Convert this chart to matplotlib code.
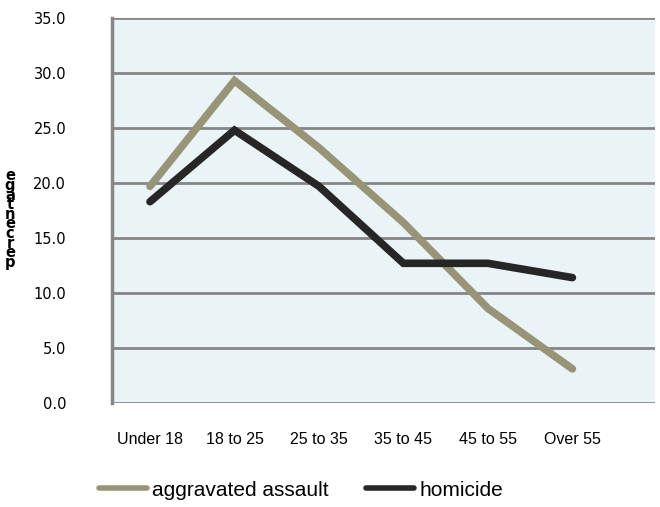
import matplotlib.pyplot as plt
import numpy as np

ages = ['Under 18', '18 to 25', '25 to 35', '35 to 45', '45 to 55', 'Over 55']
assault = [19.7, 29.3, 23.2, 16.4, 8.6, 3.1]
homicide = [18.3, 24.8, 19.7, 12.7, 12.7, 11.4]
ylabel = 'percentage'

grid_c = '#868686'

fig = plt.figure(figsize=(6.6, 5.07), dpi=100)
ax = fig.add_axes([0.1697, 0.2051, 0.823, 0.7594])
ax.set_facecolor('#eaf3f5')

x = np.arange(len(ages))
ax.plot(x, assault, color='#989478', lw=5.5, solid_capstyle='round',
        solid_joinstyle='miter', label='aggravated assault', zorder=3)
ax.plot(x, homicide, color='#262626', lw=5.5, solid_capstyle='round',
        solid_joinstyle='miter', label='homicide', zorder=4)

ax.set_ylim(0, 35)
ax.set_xlim(-0.45, 5.98)
ax.set_yticks(np.arange(0, 36, 5))
ax.set_yticklabels(['%.1f' % v for v in np.arange(0, 36, 5)], fontsize=10.5)
ax.set_xticks(x)
ax.set_xticklabels(ages, fontsize=11.5, family='Liberation Sans')
ax.tick_params(axis='both', length=0)
ax.tick_params(axis='y', pad=33)
ax.tick_params(axis='x', pad=21)

ax.yaxis.grid(True, color=grid_c, lw=2.0)
ax.set_axisbelow(True)
for s in ['top', 'right', 'bottom']:
    ax.spines[s].set_visible(False)
ax.spines['left'].set_color(grid_c)
ax.spines['left'].set_linewidth(2.5)

# the garbled vertical axis title, letters stacked upright
fig.text(10 / 660, 1 - 219 / 507, '\n'.join(ylabel[::-1]), fontsize=10.5,
         fontweight='bold', ha='center', va='center', linespacing=0.55)

handles, labels = ax.get_legend_handles_labels()
leg = fig.legend(handles, labels, loc='center', bbox_to_anchor=(301 / 660, 1 - 490 / 507),
                 ncol=2, frameon=False, prop={'family': 'Liberation Sans', 'size': 15},
                 handlelength=2.3, handletextpad=0.25, columnspacing=1.8)
for h in leg.get_lines():
    h.set_linewidth(4)

fig.savefig('out.png', dpi=100)
